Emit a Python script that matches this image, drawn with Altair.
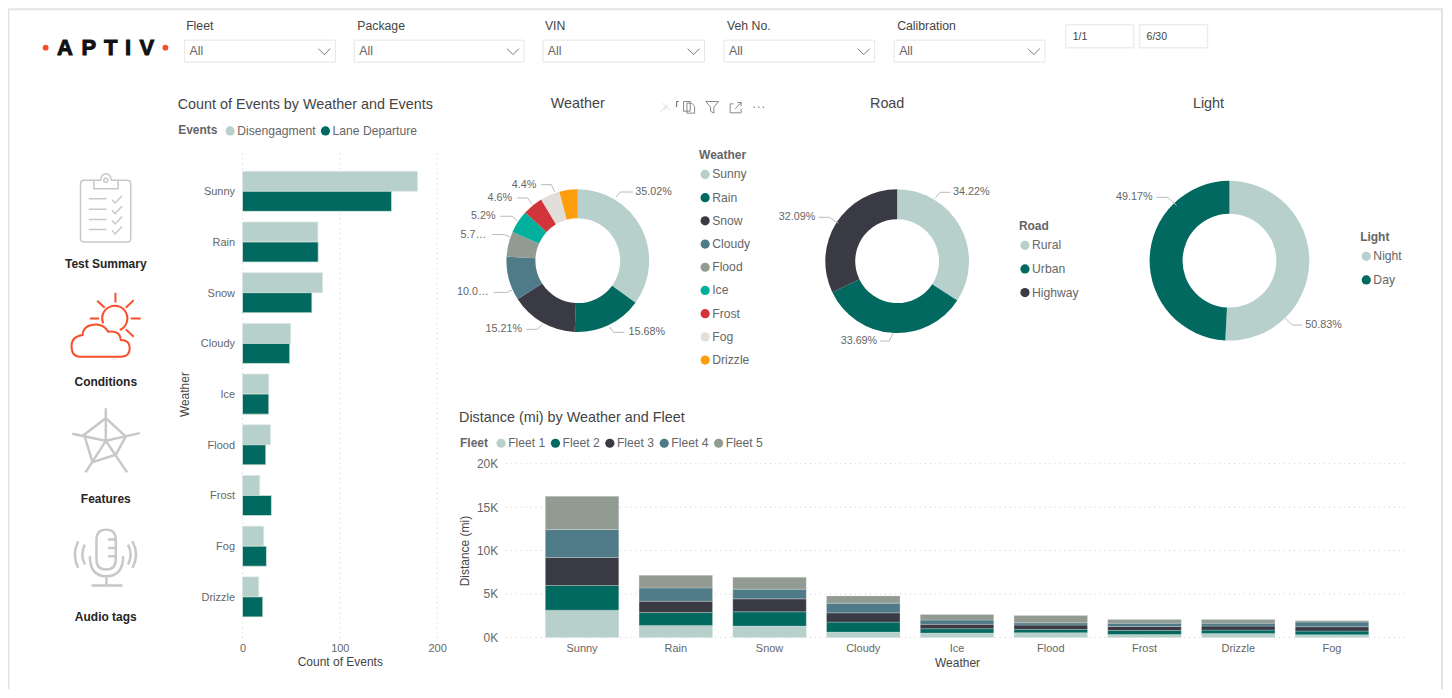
import altair as alt
import pandas as pd

# ---------- data ----------
SLICERS = ["Fleet", "Package", "VIN", "Veh No.", "Calibration"]
DATES = ["1/1", "6/30"]
NAV = ["Test Summary", "Conditions", "Features", "Audio tags"]

BAR_WEATHER = ["Sunny", "Rain", "Snow", "Cloudy", "Ice", "Flood", "Frost", "Fog", "Drizzle"]
DISENGAGE = [179.9, 77.5, 82.3, 49.5, 27, 28.7, 17.7, 21.8, 16.7]
LANE_DEP = [153.2, 77.8, 71.3, 48.5, 27, 23.9, 29.7, 24.6, 20.8]
EVENTS = ["Disengagment", "Lane Departure"]

PIE_WEATHER = ["Sunny", "Rain", "Snow", "Cloudy", "Flood", "Ice", "Frost", "Fog", "Drizzle"]
PIE_WEATHER_PCT = [35.02, 15.68, 15.21, 10.0, 5.7, 5.2, 4.6, 4.4, 4.19]
PIE_WEATHER_LABELS = ["35.02%", "15.68%", "15.21%", "10.0…", "5.7…", "5.2%", "4.6%", "4.4%"]
ROAD = ["Rural", "Urban", "Highway"]
ROAD_PCT = [34.22, 33.69, 32.09]
ROAD_LABELS = ["34.22%", "33.69%", "32.09%"]
LIGHT = ["Night", "Day"]
LIGHT_PCT = [50.83, 49.17]
LIGHT_LABELS = ["50.83%", "49.17%"]

FLEETS = ["Fleet 1", "Fleet 2", "Fleet 3", "Fleet 4", "Fleet 5"]
DIST_WEATHER = ["Sunny", "Rain", "Snow", "Cloudy", "Ice", "Flood", "Frost", "Drizzle", "Fog"]
FLEET_1 = [3140, 1380, 1300, 610, 500, 540, 340, 460, 310]
FLEET_2 = [2840, 1490, 1650, 1150, 500, 380, 460, 380, 420]
FLEET_3 = [3220, 1300, 1490, 1070, 500, 500, 460, 460, 500]
FLEET_4 = [3220, 1530, 1110, 1110, 500, 270, 380, 340, 540]
FLEET_5 = [3830, 1460, 1380, 840, 650, 840, 420, 420, 150]

LIGHT_TEAL, GREEN, DARK, BLUE, GRAY = "#B7D0CC", "#01695F", "#3A3A44", "#4F7A88", "#929B91"
PALETTE = [LIGHT_TEAL, GREEN, DARK, BLUE, GRAY, "#01B09C", "#D1343A", "#E2DFDA", "#FD9F0C"]
FONT = "Liberation Sans"
TXT, SUB = "#444444", "#666666"

# ---------- helpers (page pixel coordinates) ----------
def label(s, x, y, size=12, color=TXT, weight="normal", align="left", heavy=0):
    kw = dict(stroke=color, strokeWidth=heavy) if heavy else {}
    return alt.Chart().mark_text(text=s, font=FONT, fontSize=size, color=color, fontWeight=weight,
                                 align=align, baseline="middle", **kw).encode(
        x=alt.value(x - 8), y=alt.value(y - 8))

def glyph(path, color, width=1.0, ox=0, oy=0, scale=1.0):
    return alt.Chart().mark_point(shape=path, size=4 * scale * scale, stroke=color, strokeWidth=width,
                                  opacity=1, filled=False).encode(x=alt.value(ox - 8), y=alt.value(oy - 8))

def box(x0, y0, x1, y1, color="#E6E6E6", width=1.0):
    return glyph(f"M{x0} {y0}H{x1}V{y1}H{x0}Z", color, width)

def leader(x0, y0, x1, y1, x2, y2):
    return glyph(f"M{x0} {y0}L{x1} {y1}L{x2} {y2}", "#BBBBBB", 1)

def legend(x, y, title_side=False, rows=11):
    kw = dict(orient="none", legendX=x - 8, legendY=y - 8, symbolType="circle", symbolSize=85,
              symbolStrokeWidth=0, symbolOpacity=1, titleFont=FONT, labelFont=FONT, titleFontSize=12,
              labelFontSize=12.2, titleColor=SUB, labelColor=SUB, titleFontWeight="bold", labelOffset=1)
    if title_side:
        kw.update(direction="horizontal", titleOrient="left", columnPadding=3.5, titlePadding=6,
                  symbolOffset=0)
    else:
        kw.update(direction="vertical", rowPadding=rows, titlePadding=6)
    return alt.Legend(**kw)

def donut(names, pct, title, cx, cy, r0, r1, lx, ly, rows):
    df = pd.DataFrame({title: names, "share": pct, "i": range(len(names))})
    return alt.Chart(df).mark_arc(innerRadius=r0, outerRadius=r1).encode(
        x=alt.value(cx - 8), y=alt.value(cy - 8),
        theta=alt.Theta("share:Q", stack=True),
        order=alt.Order("i:Q"),
        color=alt.Color(f"{title}:N", legend=legend(lx, ly, rows=rows),
                        scale=alt.Scale(domain=names, range=PALETTE[:len(names)])))

def axis_style(**kw):
    base = dict(domain=False, ticks=False, grid=False, labelFont=FONT, titleFont=FONT, labelFontSize=11,
                titleFontSize=12, labelColor=SUB, titleColor=TXT, titleFontWeight="normal", labelFlush=False)
    base.update(kw)
    return alt.Axis(**base)

layers = []

# ---------- page frame, header ----------
layers.append(glyph("M8.5 690V8.5H1445V690", "#DFE5E5", 2))
for letter, x in zip("APTIV", [65, 89, 111, 128.3, 147]):
    layers.append(label(letter, x, 47, size=22, color="#111111", weight="bold", align="center", heavy=1))
for x in (45.7, 165.7):
    layers.append(alt.Chart().mark_point(shape="circle", size=34, filled=True, fill="#F84D2A", opacity=1,
                                         strokeWidth=0).encode(x=alt.value(x - 8), y=alt.value(47 - 8)))
for s, tx, x0, x1 in zip(SLICERS, [186.5, 358, 546, 728.5, 899], [185, 355, 544, 725.5, 896],
                         [336, 525, 706, 876.5, 1047]):
    layers.append(label(s, tx, 25.5, size=12.3))
    layers.append(box(x0, 39.5, x1, 61.5))
    layers.append(label("All", x0 + 5, 50.5, size=12.3, color=SUB))
    layers.append(glyph(f"M{x1-17} 48L{x1-11} 54L{x1-5} 48", "#777777", 1))
for s, x0, x1 in zip(DATES, [1068, 1142], [1136, 1210]):
    layers.append(box(x0, 24, x1, 47, "#EDEDED", 1.5))
    layers.append(label(s, x0 + 7, 36, size=10.5, color=TXT))

# ---------- sidebar ----------
for s, y in zip(NAV, [264, 382.5, 499.5, 617.5]):
    layers.append(label(s, 106, y, size=12, color="#252525", weight="bold", align="center"))
CLIP = ("M162 60H133Q122 60 122 71V234Q122 245 133 245H262Q273 245 273 234V71Q273 60 262 60H235"
        "M162 85V60H182Q185 40 198 40Q212 40 215 60H235V85Z"
        "M192 60a6 6 0 1 0 12 0a6 6 0 1 0 -12 0"
        "M147 115H200M147 147H200M147 178H200M147 208H200"
        "M217 118L226 128L247 106M217 150L226 160L247 138M217 181L226 191L247 169M217 211L226 221L247 199")
SUN = ("M190 490A38 38 0 1 1 240 510"
       "M227 398V427M258 443L282 420M273 475H303M258 508L282 530M172 422L195 443M150 475H178"
       "M120 590H245Q270 590 270 565Q270 540 243 540Q240 510 205 515Q190 488 155 495Q130 500 128 525"
       "Q95 530 95 557Q95 590 120 590Z")
RADAR = ("M198 745V843M300 820L198 843M262 938L198 843M137 938L198 843M97 822L198 843"
         "M198 775L258 830L228 885L158 907L133 825Z")
MIC = ("M170 1140Q170 1110 199 1110Q228 1110 228 1140V1200Q228 1230 199 1230Q170 1230 170 1200Z"
       "M205 1140H228M205 1165H228M205 1190H228"
       "M150 1190Q150 1250 200 1250Q250 1250 250 1190M200 1250V1278M155 1278H248"
       "M135 1155Q120 1185 135 1215M115 1145Q95 1185 115 1225M265 1155Q280 1185 265 1215M278 1145Q300 1185 278 1225")
layers.append(glyph(CLIP, "#C8C8C8", 1.5, ox=40, oy=160, scale=1/3))
layers.append(glyph(SUN, "#F8502E", 2, ox=40, oy=160, scale=1/3))
layers.append(glyph(RADAR, "#C8C8C8", 2.5, ox=40, oy=160, scale=1/3))
layers.append(glyph(MIC, "#C8C8C8", 2.5, ox=40, oy=160, scale=1/3))

# ---------- bar chart ----------
layers.append(label("Count of Events by Weather and Events", 178, 104.5, size=14.4, color=TXT))
bx = alt.Scale(domain=[0, 200], range=[235, 430])
layers.append(alt.Chart(pd.DataFrame({"v": [0, 100, 200]})).mark_rule(
    color="#CCCCCC", strokeDash=[1, 4]).encode(
    x=alt.X("v:Q", scale=bx, axis=None), y=alt.value(145), y2=alt.value(632)))
bars = pd.DataFrame({
    "Weather": BAR_WEATHER * 2,
    "Events": [EVENTS[0]] * 9 + [EVENTS[1]] * 9,
    "Count of Events": DISENGAGE + LANE_DEP,
})
layers.append(alt.Chart(bars).mark_bar(stroke="#DDE7E5", strokeWidth=0.7).encode(
    y=alt.Y("Weather:N", sort=BAR_WEATHER,
            scale=alt.Scale(domain=BAR_WEATHER, range=[142.7, 629.7], paddingInner=0.21, paddingOuter=0.398),
            axis=axis_style(orient="left", offset=-235, labelPadding=8, labelOffset=1, titlePadding=9)),
    yOffset=alt.YOffset("Events:N", sort=EVENTS),
    x=alt.X("Count of Events:Q", scale=bx,
            axis=axis_style(orient="bottom", offset=-50, values=[0, 100, 200], labelPadding=3, titlePadding=3)),
    color=alt.Color("Events:N", scale=alt.Scale(domain=EVENTS, range=[LIGHT_TEAL, GREEN]),
                    legend=legend(178.5, 124, title_side=True))))

# ---------- donuts ----------
for s, x in zip(["Weather", "Road", "Light"], [579, 889, 1211]):
    layers.append(label(s, x, 103.5, size=14.4, align="center"))

def z3(zx, zy):
    return round(441.5 + zx / 3, 1), round(90 + zy / 3, 1)

layers.append(donut(PIE_WEATHER, PIE_WEATHER_PCT, "Weather", 579, 260.5, 42.5, 71.5, 700.5, 150, 10.25))
w_geo = [((528, 320), (540, 305), (578, 305), 585, 305, "left"),
         ((507, 710), (520, 727), (552, 727), 565, 727, "left"),
         ((305, 703), (292, 718), (258, 718), 245, 718, "right"),
         ((215, 600), (200, 607), (160, 607), 145, 607, "right"),
         ((208, 440), (192, 433), (155, 433), 137, 433, "right"),
         ((232, 392), (215, 378), (180, 378), 165, 378, "right"),
         ((275, 342), (262, 323), (230, 323), 215, 323, "right"),
         ((343, 305), (333, 283), (302, 283), 288, 283, "right")]
for s, (a, b, c, tx, ty, al) in zip(PIE_WEATHER_LABELS, w_geo):
    layers.append(leader(*z3(*a), *z3(*b), *z3(*c)))
    layers.append(label(s, *z3(tx, ty), size=10.8, color=SUB, align=al))

layers.append(donut(ROAD, ROAD_PCT, "Road", 899, 261, 42, 72, 1021, 221, 10.7))
for s, geo, (tx, ty, al) in zip(ROAD_LABELS,
                                [(937, 198, 942, 192, 952, 192), (895, 333, 891, 341, 882, 341), (840, 223, 831, 217, 820, 217)],
                                [(955, 192, "left"), (879, 341, "right"), (817, 217, "right")]):
    layers.append(leader(*geo))
    layers.append(label(s, tx, ty, size=10.8, color=SUB, align=al))

layers.append(donut(LIGHT, LIGHT_PCT, "Light", 1232, 260.5, 47, 80, 1363, 232, 10.7))
for s, geo, (tx, ty, al) in zip(LIGHT_LABELS,
                                [(1288, 318, 1295, 325, 1305, 325), (1179, 205, 1170, 197, 1159, 197)],
                                [(1308, 325, "left"), (1155, 197, "right")]):
    layers.append(leader(*geo))
    layers.append(label(s, tx, ty, size=10.8, color=SUB, align=al))

# visual-header icons above the Weather donut
TOOLS = [("M664 65L680 48M672 38L695 60M676 60L688 42", "#DDDDDD"),
         ("M714 50V33H720", "#666666"),
         ("M735 33H755V62H735ZM745 38H760L768 48V68H745Z", "#888888"),
         ("M802 33H840L826 50V68L816 62V50Z", "#888888"),
         ("M885 40H875V67H908V55M890 55L908 36M897 36H908V47", "#888888"),
         ("M945 50h4M959 50h4M973 50h4", "#555555")]
for p, c in TOOLS:
    layers.append(glyph(p, c, 1, ox=440, oy=90, scale=1/3))

# ---------- stacked chart ----------
layers.append(label("Distance (mi) by Weather and Fleet", 460, 418, size=14.4, color=TXT))
sy = alt.Scale(domain=[0, 20000], range=[630, 456])
layers.append(alt.Chart(pd.DataFrame({"v": [0, 5000, 10000, 15000, 20000]})).mark_rule(
    color="#CCCCCC", strokeDash=[1, 4]).encode(
    y=alt.Y("v:Q", scale=sy, axis=None), x=alt.value(498.7), x2=alt.value(1401)))
stack_rows = []
for i, (fleet, vals) in enumerate(zip(FLEETS, [FLEET_1, FLEET_2, FLEET_3, FLEET_4, FLEET_5])):
    for w, v in zip(DIST_WEATHER, vals):
        stack_rows.append({"Weather": w, "Fleet": fleet, "Distance (mi)": v, "i": i})
layers.append(alt.Chart(pd.DataFrame(stack_rows)).mark_bar(stroke="#DDE7E5", strokeWidth=0.3).encode(
    x=alt.X("Weather:N", sort=DIST_WEATHER,
            scale=alt.Scale(domain=DIST_WEATHER, range=[500.5, 1401.5], paddingInner=0.2165, paddingOuter=0.404),
            axis=axis_style(orient="bottom", offset=-52, labelAngle=0, labelPadding=5, titlePadding=4)),
    y=alt.Y("Distance (mi):Q", stack="zero", scale=sy,
            axis=axis_style(orient="left", offset=-498.7, values=[0, 5000, 10000, 15000, 20000],
                            labelExpr="datum.value/1000 + 'K'", labelPadding=8, labelFontSize=12, titlePadding=5)),
    order=alt.Order("i:Q"),
    color=alt.Color("Fleet:N", scale=alt.Scale(domain=FLEETS, range=PALETTE[:5]),
                    legend=legend(461, 437, title_side=True))))

chart = alt.layer(*layers).resolve_scale(
    x="independent", y="independent", color="independent", theta="independent", yOffset="independent"
).properties(width=1439, height=682, padding=0,
             autosize=alt.AutoSizeParams(type="none"), background="white"
).configure_view(stroke=None)

chart.save("out.html", embed_options={"renderer": "svg", "actions": False})
